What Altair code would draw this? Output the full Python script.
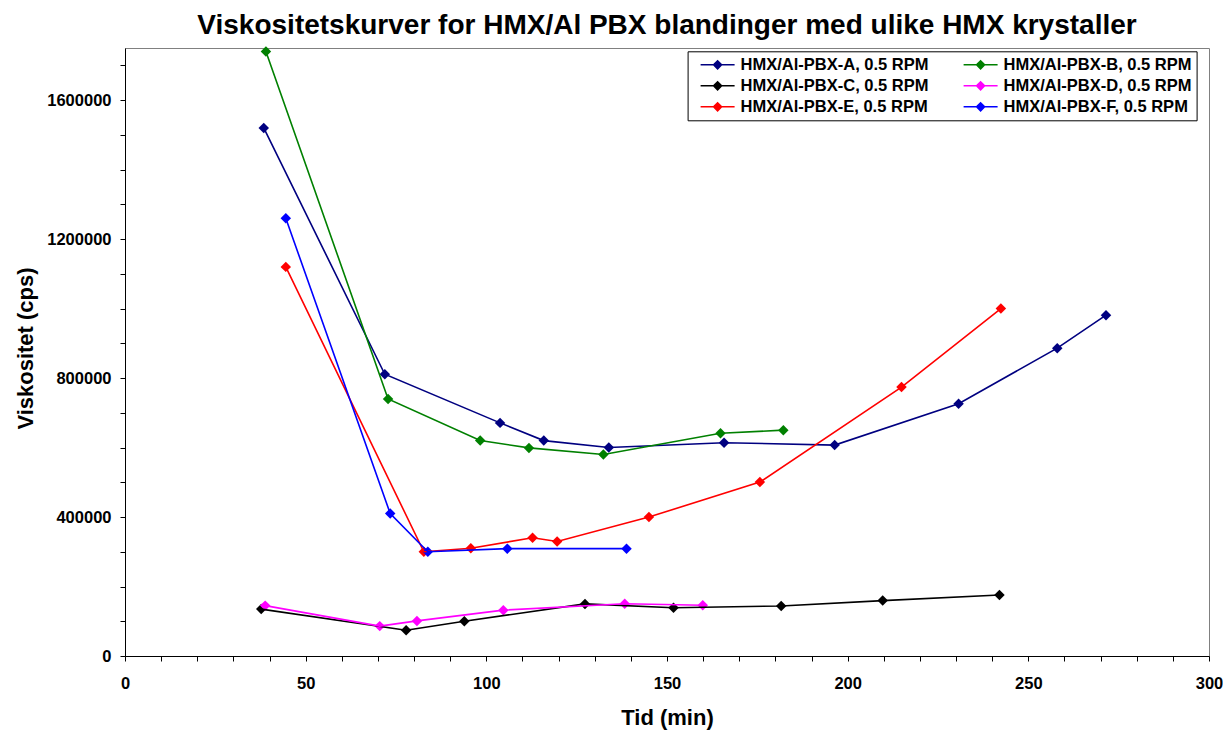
import altair as alt
import pandas as pd

# ---- data ----
series_names = [
    "HMX/Al-PBX-A, 0.5 RPM",
    "HMX/Al-PBX-B, 0.5 RPM",
    "HMX/Al-PBX-C, 0.5 RPM",
    "HMX/Al-PBX-D, 0.5 RPM",
    "HMX/Al-PBX-E, 0.5 RPM",
    "HMX/Al-PBX-F, 0.5 RPM",
]
series_colors = ["#000080", "#008000", "#000000", "#FF00FF", "#FF0000", "#0000FF"]

A_x = [38.4, 71.9, 103.8, 115.9, 133.9, 165.8, 196.4, 230.7, 258.0, 271.5]
A_y = [1520000, 811000, 671000, 620000, 600000, 614000, 607000, 726000, 886000, 981000]

B_x = [39.0, 72.8, 98.3, 111.8, 132.4, 164.8, 182.2]
B_y = [1740000, 740000, 620000, 599000, 580000, 641000, 650000]

C_x = [37.7, 77.8, 93.9, 127.3, 151.8, 181.6, 209.7, 242.0]
C_y = [135000, 74000, 100000, 150000, 139000, 144000, 159500, 175700]

D_x = [38.8, 70.5, 80.8, 104.7, 138.3, 159.9]
D_y = [145000, 86000, 101000, 132000, 150500, 146000]

E_x = [44.5, 82.7, 95.7, 112.8, 119.6, 145.0, 175.7, 214.9, 242.4]
E_y = [1120000, 300000, 310000, 340500, 329500, 400000, 500500, 774000, 1000000]

F_x = [44.5, 73.4, 83.8, 105.8, 138.8]
F_y = [1260000, 410000, 300000, 309000, 309000]

x_lists = [A_x, B_x, C_x, D_x, E_x, F_x]
y_lists = [A_y, B_y, C_y, D_y, E_y, F_y]

rows = []
for name, xs, ys in zip(series_names, x_lists, y_lists):
    for xv, yv in zip(xs, ys):
        rows.append({"serie": name, "tid": xv, "visk": yv})
df = pd.DataFrame(rows)

FONT = "Liberation Sans"

x_enc = alt.X(
    "tid:Q",
    scale=alt.Scale(domain=[0, 300], nice=False),
    axis=alt.Axis(
        title="Tid (min)",
        values=list(range(0, 301, 10)),
        labelExpr="datum.value % 50 === 0 ? datum.label : ''",
        grid=False,
        tickSize=5,
        tickColor="black",
        domainColor="black",
        labelFont=FONT,
        labelFontSize=16.5,
        labelFontWeight="bold",
        labelColor="black",
        labelPadding=14,
        labelFlush=False,
        labelOverlap=False,
        titleFont=FONT,
        titleFontSize=22,
        titleFontWeight="bold",
        titleColor="black",
        titleX=542,
        titleY=68,
        titleBaseline="alphabetic",
    ),
)

y_enc = alt.Y(
    "visk:Q",
    scale=alt.Scale(domain=[0, 1750000], nice=False),
    axis=alt.Axis(
        title="Viskositet (cps)",
        values=list(range(0, 1700001, 100000)),
        format="d",
        labelExpr="datum.value % 400000 === 0 ? datum.label : ''",
        grid=False,
        tickSize=5,
        tickColor="black",
        domainColor="black",
        labelFont=FONT,
        labelFontSize=16.5,
        labelFontWeight="bold",
        labelColor="black",
        labelPadding=9,
        labelOverlap=False,
        titleFont=FONT,
        titleFontSize=22,
        titleFontWeight="bold",
        titleColor="black",
        titleX=-100,
        titleY=300,
        titleBaseline="middle",
    ),
)

color_scale = alt.Scale(domain=series_names, range=series_colors)

legend_symbol = "M-1,-0.045H1V0.045H-1Z M0,-0.3L0.3,0L0,0.3L-0.3,0Z"

points = alt.Chart(df).mark_point(
    shape="diamond", filled=True, size=110, opacity=1
).encode(
    x=x_enc,
    y=y_enc,
    color=alt.Color(
        "serie:N",
        scale=color_scale,
        legend=alt.Legend(
            title=None,
            orient="none",
            legendX=562.6,
            legendY=3.3,
            direction="horizontal",
            columns=2,
            symbolType=legend_symbol,
            symbolSize=1156,
            symbolStrokeWidth=0,
            symbolOpacity=1,
            symbolOffset=8,
            labelOffset=6,
            clipHeight=17,
            rowPadding=4,
            columnPadding=27,
            padding=5,
            strokeColor="black",
            fillColor="white",
            labelFont=FONT,
            labelFontSize=16.5,
            labelFontWeight="bold",
            labelColor="black",
            labelLimit=400,
        ),
    ),
)

lines = alt.Chart(df).mark_line(strokeWidth=1.6).encode(
    x=x_enc,
    y=y_enc,
    color=alt.Color("serie:N", scale=color_scale, legend=None),
)

chart = (
    alt.layer(points, lines)
    .properties(
        width=1084,
        height=608,
        title=alt.TitleParams(
            "Viskositetskurver for HMX/Al PBX blandinger med ulike HMX krystaller",
            font=FONT,
            fontSize=28,
            fontWeight="bold",
            color="black",
            anchor="middle",
            frame="group",
            offset=-16,
            baseline="alphabetic",
        ),
        autosize=alt.AutoSizeParams(type="none"),
        padding={"left": 125, "top": 48, "right": 14, "bottom": 75},
        background="white",
    )
    .configure_view(stroke="#808080", strokeWidth=1)
)

chart.save("out.html", embed_options={"renderer": "svg", "actions": False})
